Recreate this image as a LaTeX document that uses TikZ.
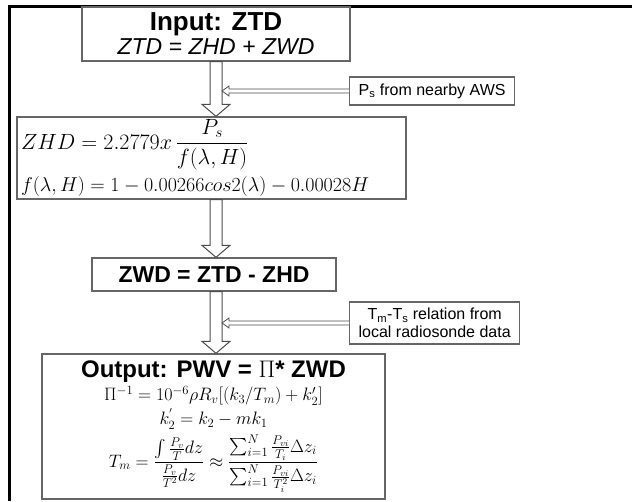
\RequirePackage{fix-cm}
\documentclass[tikz,border=0pt]{standalone}
\usepackage{amsmath}
\usepackage{fontspec}
\setsansfont{Liberation Sans}
\usetikzlibrary{calc}

\tikzset{
  flowbox/.style={draw=black!60, line width=1.3pt, fill=white, align=center, font=\sffamily, inner sep=2pt},
  sidebox/.style={flowbox, anchor=west, inner xsep=9pt},
  hollow/.style={draw=black!70, line width=1pt, fill=white, line join=miter},
}
\def\ax{216}

% hollow block arrow straight down, between two boxes
\newcommand{\bigdown}[2]{%
  \draw[hollow] let \p1=(#1.south), \p2=(#2.north) in
    (\ax pt-6pt,\y1) -- (\ax pt+6pt,\y1) -- (\ax pt+6pt,\y2+12pt) -- (\ax pt+14pt,\y2+12pt)
    -- (\ax pt,\y2) -- (\ax pt-14pt,\y2+12pt) -- (\ax pt-6pt,\y2+12pt) -- cycle;}
% thin hollow arrow from a side box into the shaft
\newcommand{\sidein}[1]{%
  \draw[hollow, line width=0.8pt] let \p1=(#1.west) in
    (\x1,\y1+2pt) -- (\ax pt+13pt,\y1+2pt) -- (\ax pt+13pt,\y1+5pt) -- (\ax pt+6pt,\y1)
    -- (\ax pt+13pt,\y1-5pt) -- (\ax pt+13pt,\y1-2pt) -- (\x1,\y1-2pt);}

\begin{document}
\begin{tikzpicture}[x=1pt, y=-1pt]
  \useasboundingbox (0,0) rectangle (632,501);

  % outer frame (left and top only)
  \draw[line width=3pt] (9.5,501) -- (9.5,6.5) -- (632,6.5);

  % Boxes
  \node[flowbox, minimum width=268pt, minimum height=54pt, font=\sffamily\fontsize{23}{24}\selectfont] (input) at (216,34)
    {{\fontsize{26}{26}\selectfont\bfseries Input: ZTD}\\
     {\itshape ZTD = ZHD + ZWD}};
  \node[sidebox, minimum height=28pt, font=\sffamily\fontsize{16}{18}\selectfont] (ps) at (349,91)
    {P\textsubscript{s} from nearby AWS};
  \node[flowbox, minimum height=82pt, text width=381pt, align=left, inner xsep=4pt, inner ysep=0pt,
        font=\fontsize{20}{22}\selectfont] (zhd) at (211.5,158)
    {{\fontsize{22}{24}\selectfont $ZHD = 2.2779x\,\dfrac{P_s}{f(\lambda,H)}$}\\[6pt]
     $f(\lambda,H) = 1 - 0.00266cos2(\lambda) - 0.00028H$};
  \node[flowbox, minimum width=244pt, minimum height=33pt, font=\sffamily\bfseries\fontsize{23}{25}\selectfont] (zwd) at (214,274.5)
    {ZWD = ZTD - ZHD};
  \node[sidebox, minimum height=42pt, font=\sffamily\fontsize{16}{18}\selectfont] (tm) at (349,323)
    {T\textsubscript{m}-T\textsubscript{s} relation from\\local radiosonde data};
  \node[flowbox, minimum width=343pt, minimum height=145pt, font=\fontsize{18}{21}\selectfont] (output) at (213.5,426.5)
    {{\sffamily\bfseries\fontsize{24}{26}\selectfont Output: PWV = $\Pi$* ZWD}\\[2pt]
     $\Pi^{-1} = 10^{-6}\rho R_v[(k_3/T_m) + k_2']$\\[3pt]
     $k_2^{'} = k_2 - mk_1$\\[5pt]
     $\displaystyle T_m = \frac{\int\tfrac{P_v}{T}dz}{\tfrac{P_v}{T^2}dz} \approx
       \frac{\sum_{i=1}^{N}\tfrac{P_{vi}}{T_i}\Delta z_i}{\sum_{i=1}^{N}\tfrac{P_{vi}}{T_i^2}\Delta z_i}$};

  % Arrows
  \bigdown{input}{zhd}
  \bigdown{zhd}{zwd}
  \bigdown{zwd}{output}
  \sidein{ps}
  \sidein{tm}
\end{tikzpicture}
\end{document}
